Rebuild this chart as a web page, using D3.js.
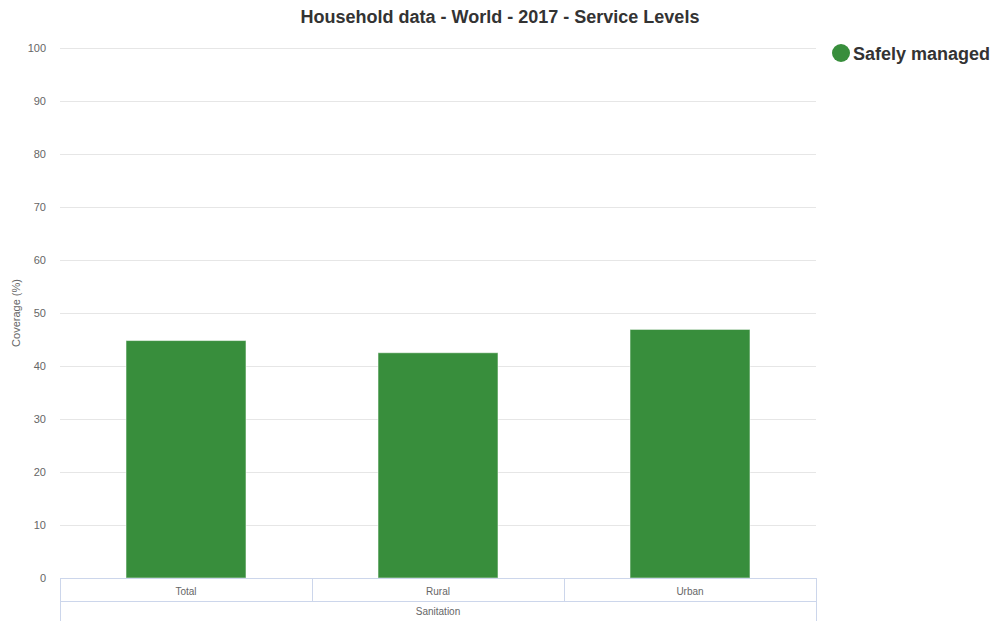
<!DOCTYPE html>
<html>
<head>
<meta charset="utf-8">
<script src="https://cdn.jsdelivr.net/npm/d3@7"></script>
<style>
  html, body { margin: 0; padding: 0; background: #fff; }
  svg { display: block; font-family: "Liberation Sans", Arial, Helvetica, sans-serif; }
</style>
</head>
<body>
<svg id="chart" width="994" height="621"></svg>
<script>
// Chart data
const categories = ["Total", "Rural", "Urban"];
const groupLabel = "Sanitation";
const seriesName = "Safely managed";
const seriesValues = [44.8, 42.5, 46.9];
const yTicks = [0, 10, 20, 30, 40, 50, 60, 70, 80, 90, 100];
const titleText = "Household data - World - 2017 - Service Levels";
const yAxisTitle = "Coverage (%)";

const svg = d3.select("#chart");
const W = 994, H = 621;
const plot = { left: 60, right: 816, top: 48, bottom: 578 };
const barColor = "#388E3C";
const gridColor = "#e6e6e6";
const tableColor = "#ccd6eb";

const x = d3.scaleBand()
  .domain(categories)
  .range([plot.left, plot.right])
  .paddingInner(0)
  .paddingOuter(0);

const y = d3.scaleLinear().domain([0, 100]).range([plot.bottom, plot.top]);

// Horizontal grid lines
svg.append("g")
  .selectAll("line")
  .data(yTicks)
  .join("line")
  .attr("x1", plot.left)
  .attr("x2", plot.right)
  .attr("y1", d => Math.round(y(d)) + 0.5)
  .attr("y2", d => Math.round(y(d)) + 0.5)
  .attr("stroke", gridColor)
  .attr("stroke-width", 1);

// Y axis tick labels
const yAxis = d3.axisLeft(y).tickValues(yTicks).tickSize(0).tickPadding(0);
const gy = svg.append("g")
  .attr("transform", `translate(${plot.left - 14},0)`)
  .call(yAxis);
gy.select(".domain").remove();
gy.selectAll("text")
  .attr("fill", "#666")
  .style("font-size", "11px")
  .style("font-family", "\"Liberation Sans\", Arial, sans-serif");

// Y axis title
svg.append("text")
  .attr("transform", `translate(20,${(plot.top + plot.bottom) / 2}) rotate(-90)`)
  .attr("text-anchor", "middle")
  .attr("fill", "#666")
  .style("font-size", "11px")
  .text(yAxisTitle);

// Bars
const barWidth = x.bandwidth() * 0.476;
svg.append("g")
  .selectAll("rect")
  .data(seriesValues)
  .join("rect")
  .attr("x", (d, i) => x(categories[i]) + (x.bandwidth() - barWidth) / 2)
  .attr("y", d => y(d))
  .attr("width", barWidth)
  .attr("height", d => y(0) - y(d))
  .attr("fill", barColor)
  .attr("stroke", "#ffffff")
  .attr("stroke-opacity", 0.5)
  .attr("stroke-width", 1);

// Grouped category table below the plot
const row1Top = plot.bottom, row1Bottom = plot.bottom + 23, row2Bottom = H + 5;
const table = svg.append("g")
  .attr("fill", "none")
  .attr("stroke", tableColor)
  .attr("stroke-width", 1);
table.append("line")
  .attr("x1", plot.left).attr("x2", plot.right)
  .attr("y1", row1Top + 0.5).attr("y2", row1Top + 0.5);
table.append("line")
  .attr("x1", plot.left).attr("x2", plot.right)
  .attr("y1", row1Bottom + 0.5).attr("y2", row1Bottom + 0.5);
table.selectAll("line.v")
  .data(categories.map(c => x(c)).concat([plot.right]))
  .join("line")
  .attr("class", "v")
  .attr("x1", d => Math.round(d) + 0.5)
  .attr("x2", d => Math.round(d) + 0.5)
  .attr("y1", row1Top)
  .attr("y2", (d, i) => (i === 0 || i === categories.length) ? row2Bottom : row1Bottom);

svg.append("g")
  .selectAll("text")
  .data(categories)
  .join("text")
  .attr("x", d => x(d) + x.bandwidth() / 2)
  .attr("y", row1Top + 17)
  .attr("text-anchor", "middle")
  .attr("fill", "#666")
  .style("font-size", "10px")
  .text(d => d);

svg.append("text")
  .attr("x", (plot.left + plot.right) / 2)
  .attr("y", row1Bottom + 14)
  .attr("text-anchor", "middle")
  .attr("fill", "#666")
  .style("font-size", "10px")
  .text(groupLabel);

// Title
svg.append("text")
  .attr("x", 500)
  .attr("y", 23)
  .attr("text-anchor", "middle")
  .attr("fill", "#333")
  .style("font-size", "18px")
  .style("font-weight", "bold")
  .text(titleText);

// Legend
const legend = svg.append("g").attr("transform", "translate(841,53)");
legend.append("circle").attr("r", 9).attr("fill", barColor);
legend.append("text")
  .attr("x", 12)
  .attr("y", 7)
  .attr("fill", "#333")
  .style("font-size", "18px")
  .style("font-weight", "bold")
  .text(seriesName);
</script>
</body>
</html>
